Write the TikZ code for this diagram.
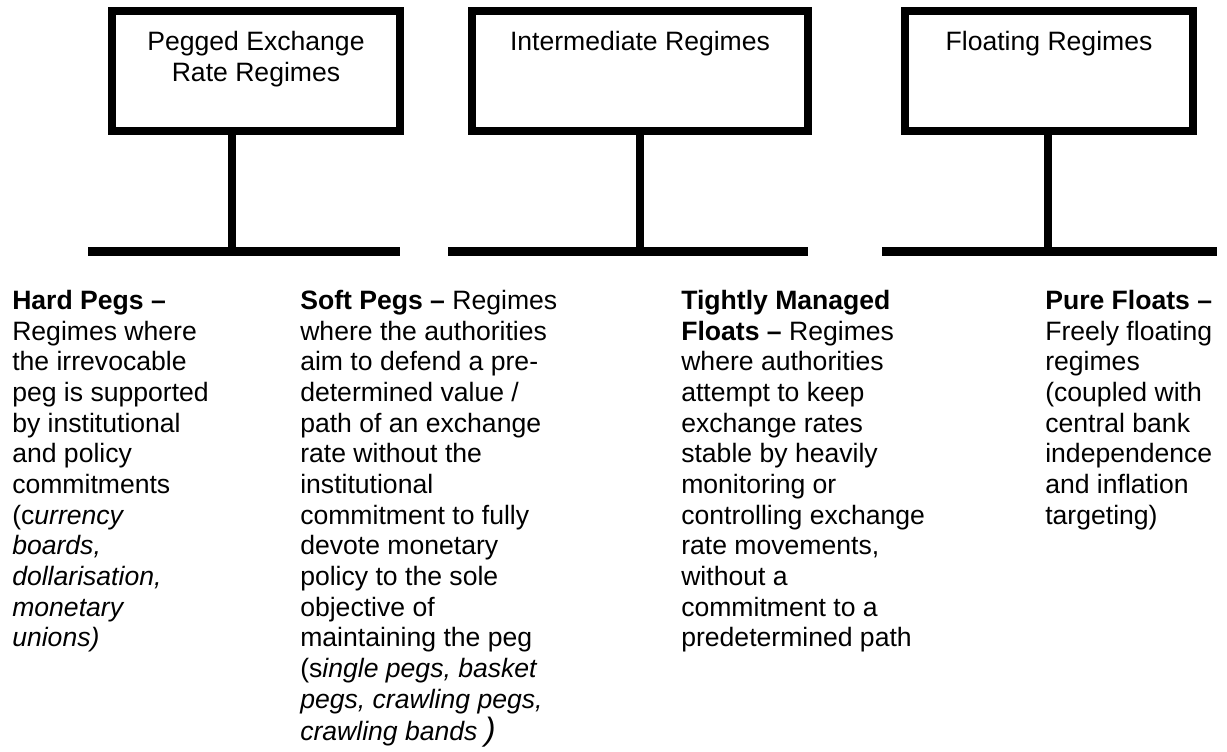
\documentclass[tikz,border=0pt]{standalone}
\usepackage{fontspec}
\setmainfont{Liberation Sans}
\tikzstyle{rg}=[draw=black,line width=0.2cm,inner sep=0pt,minimum height=3cm]
\tikzstyle{lb}=[inner sep=0pt,align=center,anchor=north,font=\fontsize{18.9pt}{21.8pt}\selectfont]
\tikzstyle{ds}=[inner sep=0pt,align=left,anchor=north west,font=\fontsize{18.9pt}{21.8pt}\selectfont]
\tikzstyle{barline}=[line width=0.225cm]
\tikzstyle{stemline}=[line width=0.19cm]

\begin{document}
\begin{tikzpicture}[x=0.025cm,y=-0.025cm]
\useasboundingbox (0,0) rectangle (1227,751);
% regime boxes
\node[rg,minimum width=7.2cm] (peg) at (256,71) {};
\node[rg,minimum width=8.4cm] (mid) at (640,71) {};
\node[rg,minimum width=7.2cm] (flt) at (1049,71) {};
\node[lb] (pegtxt) at (256,31) {Pegged Exchange\\Rate Regimes};
\node[lb] (midtxt) at (640,31) {Intermediate Regimes};
\node[lb] (flttxt) at (1049,31) {Floating Regimes};
% bars and stems
\coordinate (b1l) at (88,251); \coordinate (b1r) at (400,251); \coordinate (b1) at (232,251);
\coordinate (b2l) at (448,251); \coordinate (b2r) at (808,251); \coordinate (b2) at (640,251);
\coordinate (b3l) at (882,251); \coordinate (b3r) at (1217,251); \coordinate (b3) at (1048,251);
\draw[barline] (b1l) -- (b1r);
\draw[barline] (b2l) -- (b2r);
\draw[barline] (b3l) -- (b3r);
\draw[stemline] (peg.south -| b1) -- (b1);
\draw[stemline] (mid.south -| b2) -- (b2);
\draw[stemline] (flt.south -| b3) -- (b3);
% descriptions
\node[ds] (hard) at (12,290) {\textbf{Hard Pegs --}\\
Regimes where\\
the irrevocable\\
peg is supported\\
by institutional\\
and policy\\
commitments\\
(c\textit{urrency}\\
\textit{boards,}\\
\textit{dollarisation,}\\
\textit{monetary}\\
\textit{unions)}};
\node[ds] (soft) at (300,290) {\textbf{Soft Pegs --} Regimes\\
where the authorities\\
aim to defend a pre-\\
determined value /\\
path of an exchange\\
rate without the\\
institutional\\
commitment to fully\\
devote monetary\\
policy to the sole\\
objective of\\
maintaining the peg\\
(s\textit{ingle pegs, basket}\\
\textit{pegs, crawling pegs,}\\[1.5pt]
\textit{crawling bands {\fontsize{23pt}{24pt}\selectfont)}}};
\node[ds] (tight) at (681,290) {\textbf{Tightly Managed}\\
\textbf{Floats --} Regimes\\
where authorities\\
attempt to keep\\
exchange rates\\
stable by heavily\\
monitoring or\\
controlling exchange\\
rate movements,\\
without a\\
commitment to a\\
predetermined path};
\node[ds] (pure) at (1045,290) {\textbf{Pure Floats --}\\
Freely floating\\
regimes\\
(coupled with\\
central bank\\
independence\\
and inflation\\
targeting)};
\end{tikzpicture}
\end{document}
